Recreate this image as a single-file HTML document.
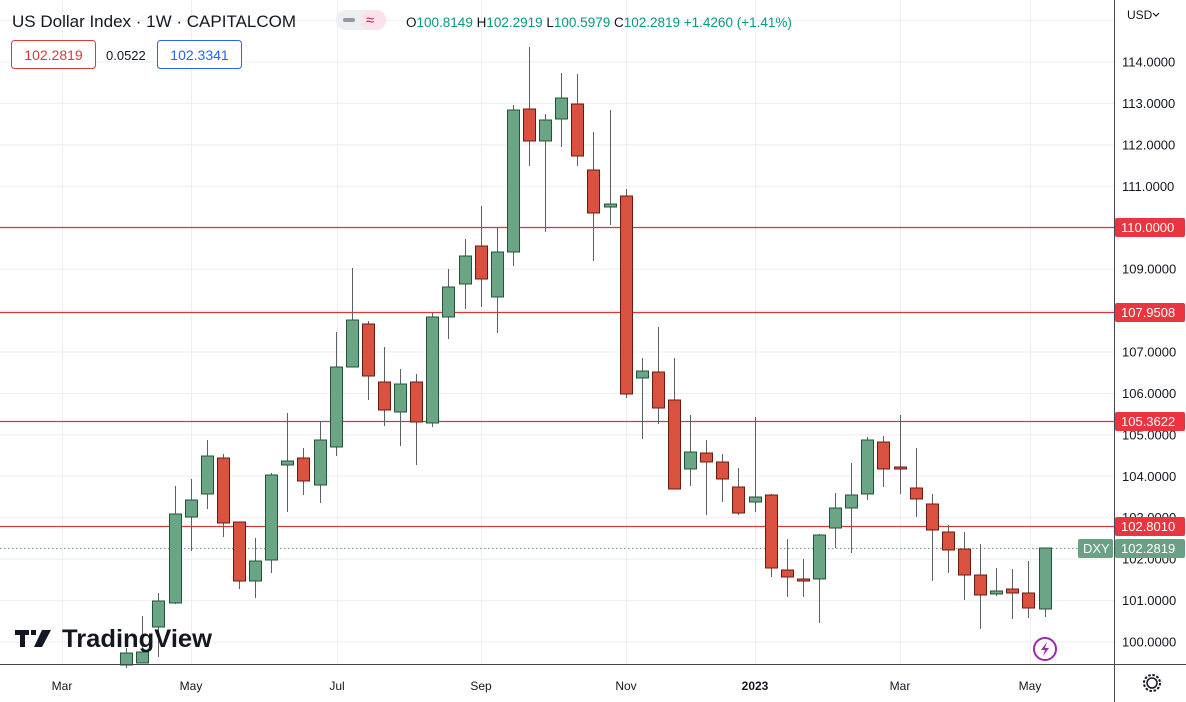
<!DOCTYPE html>
<html><head><meta charset="utf-8"><style>
html,body{margin:0;padding:0;background:#fff;}
svg{display:block;font-family:"Liberation Sans",sans-serif;}
</style></head><body>
<svg id="c" width="1186" height="702" viewBox="0 0 1186 702" xmlns="http://www.w3.org/2000/svg">
<rect width="1186" height="702" fill="#fff"/>
<g id="grid"></g>
<g id="hl"></g>
<g id="cand"></g>
<line x1="1114.5" y1="0" x2="1114.5" y2="702" stroke="#434651" stroke-width="1"/>
<line x1="0" y1="664.5" x2="1186" y2="664.5" stroke="#434651" stroke-width="1"/>
<g id="ax" font-size="13" fill="#131722"></g>
<g font-size="12" fill="#131722" text-anchor="middle">
<text x="62" y="690">Mar</text><text x="191" y="690">May</text><text x="337" y="690">Jul</text>
<text x="481" y="690">Sep</text><text x="626" y="690">Nov</text><text x="755" y="690" font-weight="bold">2023</text>
<text x="900" y="690">Mar</text><text x="1030" y="690">May</text>
</g>
<text x="1127" y="19" font-size="12" fill="#131722">USD</text>
<path d="M1153 13 l3 3 l3 -3" fill="none" stroke="#131722" stroke-width="1.2"/>
<text x="12" y="27" font-size="17" fill="#131722">US Dollar Index · 1W · CAPITALCOM</text>
<rect x="336" y="10" width="50" height="20" rx="10" fill="#eceef2"/>
<rect x="361" y="10" width="25" height="20" rx="10" fill="#fbe2ea"/>
<rect x="343" y="18" width="12" height="4" rx="2" fill="#9598a1"/>
<text x="366" y="25" font-size="15" fill="#c2185b">≈</text>
<g font-size="13.5" fill="#089981">
<text x="406" y="27"><tspan fill="#131722">O</tspan>100.8149 <tspan fill="#131722">H</tspan>102.2919 <tspan fill="#131722">L</tspan>100.5979 <tspan fill="#131722">C</tspan>102.2819 +1.4260 (+1.41%)</text>
</g>
<rect x="11.5" y="40.5" width="84" height="28" rx="3" fill="#fff" stroke="#d93a3a"/>
<text x="53.5" y="60" font-size="14" fill="#d93a3a" text-anchor="middle">102.2819</text>
<text x="106" y="60" font-size="13" fill="#131722">0.0522</text>
<rect x="157.5" y="40.5" width="84" height="28" rx="3" fill="#fff" stroke="#2962ff"/>
<text x="199.5" y="60" font-size="14" fill="#2962ff" text-anchor="middle">102.3341</text>
<rect x="15" y="630" width="14" height="5" fill="#131722"/><rect x="20" y="630" width="5" height="17" fill="#131722"/>
<rect x="31" y="630" width="5" height="5" fill="#131722"/><path d="M42 630 h9 l-9 17 h-8 z" fill="#131722"/>
<text x="62" y="647" font-size="25" font-weight="bold" fill="#131722" textLength="150" lengthAdjust="spacingAndGlyphs">TradingView</text>
<circle cx="1045" cy="649" r="11" fill="none" stroke="#9c27b0" stroke-width="2"/>
<path d="M1047 642 l-6 8 h4 l-2 6 l6 -8 h-4 z" fill="#9c27b0"/>
<circle cx="1152" cy="683" r="5" fill="none" stroke="#131722" stroke-width="1.5"/>
<circle cx="1152" cy="683" r="8" fill="none" stroke="#131722" stroke-width="2" stroke-dasharray="2.5 1.7"/>
</svg>
<script>
var NS="http://www.w3.org/2000/svg";
function el(p,t,a,txt){var e=document.createElementNS(NS,t);for(var k in a)e.setAttribute(k,a[k]);if(txt)e.textContent=txt;document.getElementById(p).appendChild(e);return e;}
function Y(p){return 62+(114-p)*41.43;}
var vx=[62,191,337,481,626,755,900,1030];
vx.forEach(function(x){el("grid","line",{x1:x+.5,y1:0,x2:x+.5,y2:664,stroke:"#eceef1"});});
for(var p=100;p<=115;p++){var y=Y(p);el("grid","line",{x1:0,y1:y,x2:1114,y2:y,stroke:"#eceef1"});
 if(p<=114)el("ax","text",{x:1122,y:y+4.5},p.toFixed(4));}
el("grid","line",{x1:0,y1:548.5,x2:1114,y2:548.5,stroke:"#6a9e84","stroke-dasharray":"1.5 2.5"});
[[227,"110.0000"],[312,"107.9508"],[421,"105.3622"],[526,"102.8010"]].forEach(function(h){
 el("hl","line",{x1:0,y1:h[0]+.5,x2:1114,y2:h[0]+.5,stroke:"#d33b3b","stroke-width":1.2});
 el("ax","rect",{x:1115,y:h[0]-9,width:70,height:19,rx:2,fill:"#e8353f"});
 el("ax","text",{x:1121,y:h[0]+5,fill:"#fff","font-size":"13"},h[1]);});
el("ax","rect",{x:1078,y:539,width:35,height:19,rx:2,fill:"#6aa084"});
el("ax","text",{x:1083,y:553,fill:"#fff","font-size":"13"},"DXY");
el("ax","rect",{x:1115,y:539,width:70,height:19,rx:2,fill:"#6aa084"});
el("ax","text",{x:1121,y:553,fill:"#fff","font-size":"13"},"102.2819");
var C=[
[126,665,653,648,668],[142,663,652,616,657],[158,627,601,593,657],[175,603,514,486,604],[191,517,500,479,551],
[207,494,456,440,509],[223,458,523,454,537],[239,522,581,522,589],[255,581,561,538,598],[271,560,475,473,573],
[287,465,461,413,512],[303,458,481,448,495],[320,485,440,421,503],[336,447,367,332,456],[352,367,320,268,367],
[368,324,376,321,400],[384,382,410,347,426],[400,412,384,369,446],[416,382,422,374,465],[432,423,317,313,427],
[448,317,287,269,339],[465,284,256,239,309],[481,246,279,206,307],[497,297,252,228,333],[513,252,110,105,266],
[529,109,141,47,166],[545,141,120,114,232],[561,119,98,73,147],[577,104,156,74,166],[593,170,213,132,261],
[610,207,204,110,225],[626,196,394,189,398],[642,378,371,358,439],[658,372,408,327,424],[674,400,489,358,489],
[690,469,452,415,486],[706,453,462,440,515],[722,462,479,454,502],[738,487,513,468,515],[755,502,497,417,512],
[771,495,568,494,577],[787,570,577,539,597],[803,579,581,559,597],[819,579,535,534,623],[835,528,508,493,548],
[851,508,495,463,553],[867,494,440,437,500],[883,442,469,436,487],[900,467,469,415,494],[916,488,499,448,517],
[932,504,530,494,581],[948,532,550,525,573],[964,549,575,532,600],[980,575,595,544,629],[996,594,591,568,596],
[1012,589,593,569,619],[1028,593,608,561,618],[1045,609,548,548,617]];
C.forEach(function(c){var up=c[2]<c[1];var top=Math.min(c[1],c[2]),bot=Math.max(c[1],c[2]);
 el("cand","line",{x1:c[0]+.5,y1:c[3],x2:c[0]+.5,y2:c[4],stroke:"#5d606b","stroke-width":1});
 el("cand","rect",{x:c[0]-5.5,y:top,width:12,height:Math.max(bot-top,2),fill:up?"#6aa585":"#d9513f",stroke:up?"#24533a":"#6b1a12","stroke-width":1});});
</script>
</body></html>
